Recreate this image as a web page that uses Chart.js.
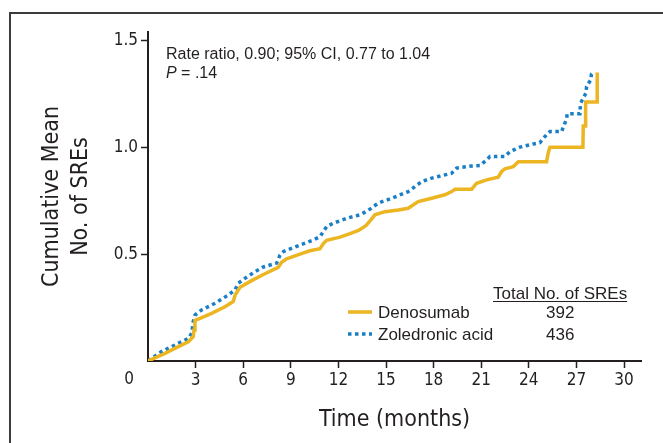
<!DOCTYPE html>
<html>
<head>
<meta charset="utf-8">
<script src="https://cdn.jsdelivr.net/npm/chart.js@4.4.1/dist/chart.umd.min.js"></script>
<style>
  html, body { margin: 0; padding: 0; background: #fff; overflow: hidden; }
  #wrap { position: relative; width: 663px; height: 443px; }
  #frame { position: absolute; left: 9px; top: 12px; width: 670px; height: 450px;
           border-top: 2px solid #3c3c3c; border-left: 2px solid #3c3c3c; }
  canvas { position: absolute; left: 0; top: 0; }
</style>
</head>
<body>
<div id="wrap">
  <div id="frame"></div>
  <canvas id="chart" width="663" height="443"></canvas>
</div>
<script>
// Cumulative mean number of SREs, denosumab vs zoledronic acid

const denosumabMonths = [0, 1.07, 1.91, 2.54, 2.85, 2.9, 2.96, 3.28, 4.01, 4.85, 5.37, 5.5, 5.8, 6.5,
    7.27, 8.21, 8.42, 8.74, 9.58, 10.2, 10.84, 11.05, 11.26, 12.1, 12.73, 13.3, 13.75, 14.1, 14.3,
    14.93, 15.77, 16.4, 17.03, 17.88, 18.71, 19.14, 19.35, 20.4, 20.71, 21.34, 22.07, 22.29, 22.5,
    23.02, 23.34, 25.12, 25.22, 25.33, 27.41, 27.43, 27.58, 27.58, 28.31, 28.31];
const denosumabValues = [0, 0.036, 0.067, 0.09, 0.114, 0.145, 0.19, 0.2, 0.223, 0.254, 0.278, 0.31, 0.345, 0.375,
    0.405, 0.438, 0.462, 0.478, 0.5, 0.516, 0.526, 0.55, 0.565, 0.58, 0.596, 0.612, 0.635, 0.665, 0.684,
    0.699, 0.707, 0.715, 0.746, 0.762, 0.778, 0.793, 0.804, 0.804, 0.832, 0.848, 0.86, 0.887, 0.9,
    0.91, 0.933, 0.933, 0.973, 1.001, 1.001, 1.1, 1.1, 1.212, 1.212, 1.35];

const zoledronicMonths = [0, 0.86, 1.7, 2.54, 2.75, 2.85, 2.96, 3.38, 4.22, 5.06, 5.48, 5.69, 6.11, 6.74,
    7.27, 8.11, 8.32, 8.53, 9.58, 10.42, 10.84, 11.26, 11.68, 12.52, 13.36, 13.88, 14.51, 15.36,
    16.4, 17.25, 17.88, 18.71, 19.14, 19.45, 20.4, 20.92, 21.34, 21.55, 22.5, 22.81, 23.44, 24.28,
    24.7, 25.02, 25.33, 26.07, 26.17, 26.38, 26.42, 27.22, 27.26, 27.6, 27.64, 27.9, 27.95, 28.12];
const zoledronicValues = [0, 0.044, 0.075, 0.106, 0.13, 0.184, 0.215, 0.239, 0.27, 0.309, 0.333, 0.364, 0.387, 0.418,
    0.44, 0.458, 0.496, 0.512, 0.543, 0.567, 0.582, 0.629, 0.645, 0.668, 0.684, 0.705, 0.739, 0.762,
    0.793, 0.84, 0.856, 0.871, 0.879, 0.903, 0.913, 0.915, 0.941, 0.957, 0.957, 0.98, 1.001, 1.016,
    1.022, 1.051, 1.074, 1.074, 1.095, 1.133, 1.157, 1.157, 1.207, 1.254, 1.285, 1.316, 1.343, 1.352];

const seriesNames = ['Denosumab', 'Zoledronic acid'];
const totalSREs = [392, 436];
const xTickValues = [0, 3, 6, 9, 12, 15, 18, 21, 24, 27, 30];
const yTickValues = [0, 0.5, 1.0, 1.5];
const statLine1 = 'Rate ratio, 0.90; 95% CI, 0.77 to 1.04';
const statLine2 = ' = .14';

const INK = '#231f20';
const NARROW = "'Liberation Sans Narrow', 'DejaVu Sans Condensed', sans-serif";
const REGULAR = "'Liberation Sans', Arial, sans-serif";

function toPoints(xs, ys) {
    return xs.map((x, i) => ({ x: x, y: ys[i] }));
}

// text overlays: stats annotation, table legend, corner "0"
const overlayPlugin = {
    id: 'overlay',
    afterDraw(chart) {
        const ctx = chart.ctx;
        const area = chart.chartArea;
        const xs = chart.scales.x;
        ctx.save();
        ctx.fillStyle = INK;

        // corner zero
        ctx.font = '17px ' + NARROW;
        ctx.textAlign = 'center';
        ctx.textBaseline = 'middle';
        ctx.fillText('0', xs.left - 19, area.bottom + 19);

        // stats text
        ctx.textAlign = 'left';
        ctx.textBaseline = 'alphabetic';
        ctx.font = '16px ' + REGULAR;
        const sx = area.left + 18;
        ctx.fillText(statLine1, sx, area.top + 27);
        ctx.font = 'italic 16px ' + REGULAR;
        ctx.fillText('P', sx, area.top + 46);
        const pw = ctx.measureText('P').width;
        ctx.font = '16px ' + REGULAR;
        ctx.fillText(statLine2, sx + pw, area.top + 46);

        // legend table
        const lx = area.right - 293;
        const headX = area.right - 148;
        const numX = area.right - 95;
        ctx.font = '17px ' + REGULAR;
        const head = 'Total No. of SREs';
        ctx.fillText(head, headX, 299);
        const hw = ctx.measureText(head).width;
        ctx.strokeStyle = INK;
        ctx.lineWidth = 1;
        ctx.beginPath();
        ctx.moveTo(headX, 301.5);
        ctx.lineTo(headX + hw, 301.5);
        ctx.stroke();

        const rows = [318, 340];
        chart.data.datasets.forEach((ds, i) => {
            const y = rows[i];
            ctx.save();
            ctx.strokeStyle = ds.borderColor;
            ctx.lineWidth = ds.borderWidth;
            ctx.lineCap = 'butt';
            ctx.setLineDash(ds.borderDash || []);
            ctx.beginPath();
            ctx.moveTo(lx, y - 6);
            ctx.lineTo(lx + 24, y - 6);
            ctx.stroke();
            ctx.restore();
            ctx.fillStyle = INK;
            ctx.fillText(seriesNames[i], lx + 30, y);
            ctx.fillText(String(totalSREs[i]), numX, y);
        });
        ctx.restore();
    }
};

const ctx = document.getElementById('chart').getContext('2d');
new Chart(ctx, {
    type: 'line',
    data: {
        datasets: [
            {
                label: seriesNames[0],
                data: toPoints(denosumabMonths, denosumabValues),
                borderColor: '#ecb522',
                borderWidth: 3.5,
                pointRadius: 0,
                tension: 0
            },
            {
                label: seriesNames[1],
                data: toPoints(zoledronicMonths, zoledronicValues),
                borderColor: '#1a7fc6',
                borderWidth: 3.5,
                borderDash: [3.5, 3.5],
                borderCapStyle: 'butt',
                pointRadius: 0,
                tension: 0
            }
        ]
    },
    options: {
        responsive: false,
        animation: false,
        layout: { padding: { left: 38, top: 32, right: 22, bottom: 0 } },
        plugins: {
            legend: { display: false },
            tooltip: { enabled: false }
        },
        scales: {
            x: {
                type: 'linear',
                min: 0,
                max: 31.07,
                afterBuildTicks: scale => { scale.ticks = xTickValues.map(v => ({ value: v })); },
                afterFit: scale => { scale.height = 82; },
                border: { display: true, color: INK, width: 2 },
                grid: {
                    drawOnChartArea: false,
                    tickLength: 7,
                    tickWidth: 1.5,
                    tickColor: c => (c.tick && c.tick.value === 0 ? 'rgba(0,0,0,0)' : INK)
                },
                ticks: {
                    color: INK,
                    padding: 2,
                    maxRotation: 0,
                    font: { family: NARROW, size: 17 },
                    callback: v => (v === 0 ? '' : String(v))
                },
                title: {
                    display: true,
                    text: 'Time (months)',
                    color: INK,
                    padding: { top: 0, bottom: 10 },
                    font: { family: NARROW, size: 23, lineHeight: 1.1 }
                }
            },
            y: {
                type: 'linear',
                min: 0,
                max: 1.54,
                afterBuildTicks: scale => { scale.ticks = yTickValues.map(v => ({ value: v })); },
                afterFit: scale => { scale.width = 110; },
                border: { display: true, color: INK, width: 2 },
                grid: {
                    drawOnChartArea: false,
                    tickLength: 7,
                    tickWidth: 1.5,
                    tickColor: c => (c.tick && c.tick.value === 0 ? 'rgba(0,0,0,0)' : INK)
                },
                ticks: {
                    color: INK,
                    padding: 3,
                    font: { family: NARROW, size: 17 },
                    callback: v => (v === 0 ? '' : v.toFixed(1))
                },
                title: {
                    display: true,
                    text: ['Cumulative Mean', 'No. of SREs'],
                    color: INK,
                    padding: { top: 0, bottom: 0 },
                    font: { family: NARROW, size: 23, lineHeight: 1.26 }
                }
            }
        }
    },
    plugins: [overlayPlugin]
});
</script>
</body>
</html>
